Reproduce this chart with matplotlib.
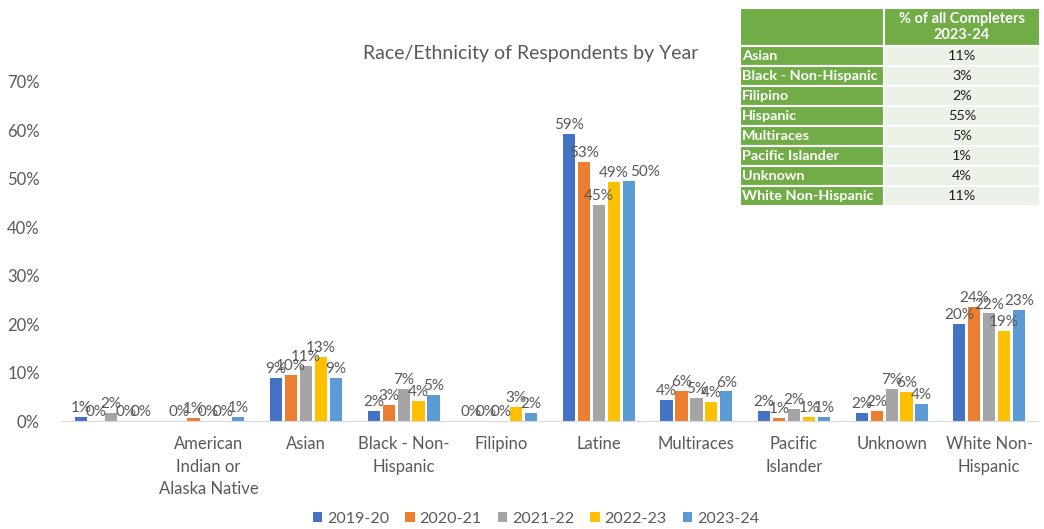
import matplotlib
matplotlib.use("Agg")
import matplotlib.pyplot as plt
import numpy as np
from matplotlib.patches import Rectangle

plt.rcParams['font.family'] = ['Lato', 'DejaVu Sans']

# Share of respondents by race/ethnicity, one list per academic year (%)
categories = ["", "American\nIndian or\nAlaska Native", "Asian", "Black - Non-\nHispanic",
              "Filipino", "Latine", "Multiraces", "Pacific\nIslander", "Unknown",
              "White Non-\nHispanic"]
years = ["2019-20", "2020-21", "2021-22", "2022-23", "2023-24"]
y2019 = [0.8, 0.0, 8.9, 2.1, 0.0, 59.2, 4.3, 2.1, 1.6, 20.1]
y2020 = [0.0, 0.6, 9.6, 3.4, 0.0, 53.4, 6.2, 0.6, 2.0, 23.6]
y2021 = [1.6, 0.0, 11.4, 6.6, 0.0, 44.7, 4.7, 2.4, 6.6, 22.2]
y2022 = [0.0, 0.0, 13.3, 4.1, 2.9, 49.4, 4.0, 0.9, 6.0, 18.6]
y2023 = [0.0, 0.8, 8.8, 5.3, 1.6, 49.6, 6.1, 0.8, 3.6, 23.0]
series = [y2019, y2020, y2021, y2022, y2023]
colors = ["#4472C4", "#ED7D31", "#A5A5A5", "#FFC000", "#5B9BD5"]

# Completer table (2023-24)
table_groups = ["Asian", "Black - Non-Hispanic", "Filipino", "Hispanic", "Multiraces",
                "Pacific Islander", "Unknown", "White Non-Hispanic"]
table_pct = ["11%", "3%", "2%", "55%", "5%", "1%", "4%", "11%"]

# a couple of labels nudged sideways so they don't sit on each other (series, category) -> x shift
label_shift = {(4, 5): 0.17}

W, H = 1044, 529
fig = plt.figure(figsize=(W / 100, H / 100), dpi=100)
fig.patch.set_facecolor("white")

ax = fig.add_axes([62 / W, 1 - 421 / H, (1038 - 62) / W, (421 - 82) / H])
x = np.arange(len(categories))
pitch = 0.153
width = 0.125
label_color = "#595959"
for i, (vals, col, yr) in enumerate(zip(series, colors, years)):
    pos = x + (i - 2) * pitch
    bars = ax.bar(pos, np.array(vals) / 100, width, color=col, label=yr, zorder=2)
    for j, (b, v) in enumerate(zip(bars, vals)):
        dx = label_shift.get((i, j), 0)
        ax.text(b.get_x() + b.get_width() / 2 + dx, v / 100 + 0.004, f"{round(v):d}%",
                ha="center", va="bottom", fontsize=11, color=label_color)

ax.set_ylim(0, 0.70)
ax.set_xlim(-0.5, len(categories) - 0.5)
ax.set_yticks(np.arange(0, 0.71, 0.1))
ax.set_yticklabels([f"{int(round(t * 100))}%" for t in np.arange(0, 0.71, 0.1)])
ax.set_xticks(x)
ax.set_xticklabels(categories, fontsize=12, color=label_color, linespacing=1.5)
ax.tick_params(axis="y", labelsize=12, labelcolor=label_color, length=0, pad=16)
ax.tick_params(axis="x", length=0, pad=11)
for s in ["top", "right", "left"]:
    ax.spines[s].set_visible(False)
ax.spines["bottom"].set_color("#D9D9D9")

fig.text(531 / W, 1 - 53 / H, "Race/Ethnicity of Respondents by Year", ha="center",
         va="center", fontsize=14, color=label_color)

handles, labels = ax.get_legend_handles_labels()
fig.legend(handles, labels, loc="center", bbox_to_anchor=(536 / W, 1 - 519 / H), ncol=5,
           frameon=False, fontsize=11.5, handlelength=0.6, handleheight=0.6,
           handletextpad=0.3, columnspacing=1.0, labelcolor=label_color)

# Completer table drawn in pixel coordinates
tab = fig.add_axes([0, 0, 1, 1], zorder=5)
tab.set_xlim(0, W)
tab.set_ylim(H, 0)
tab.axis("off")
green = "#70AD47"
light = "#EDF2E8"
x0, x1, x2 = 740, 884, 1040
y0, yh = 8, 46
row_h = 20.0
tab.add_patch(Rectangle((x0, y0), x1 - x0, yh - y0, facecolor=green, edgecolor="white", lw=1.5))
tab.add_patch(Rectangle((x1, y0), x2 - x1, yh - y0, facecolor=green, edgecolor="white", lw=1.5))
tab.text((x1 + x2) / 2, (y0 + yh) / 2, "% of all Completers\n2023-24", ha="center",
         va="center", color="white", fontsize=10.5, fontweight="bold", linespacing=1.25)
for k, (grp, pct) in enumerate(zip(table_groups, table_pct)):
    ty = yh + k * row_h
    tab.add_patch(Rectangle((x0, ty), x1 - x0, row_h, facecolor=green, edgecolor="white", lw=1.5))
    tab.add_patch(Rectangle((x1, ty), x2 - x1, row_h, facecolor=light, edgecolor="white", lw=1.5))
    tab.text(x0 + 2, ty + row_h / 2, grp, ha="left", va="center", color="white",
             fontsize=10.4, fontweight="bold")
    tab.text((x1 + x2) / 2, ty + row_h / 2, pct, ha="center", va="center", color="#222222",
             fontsize=10.4)

fig.savefig("out.png", dpi=100)
